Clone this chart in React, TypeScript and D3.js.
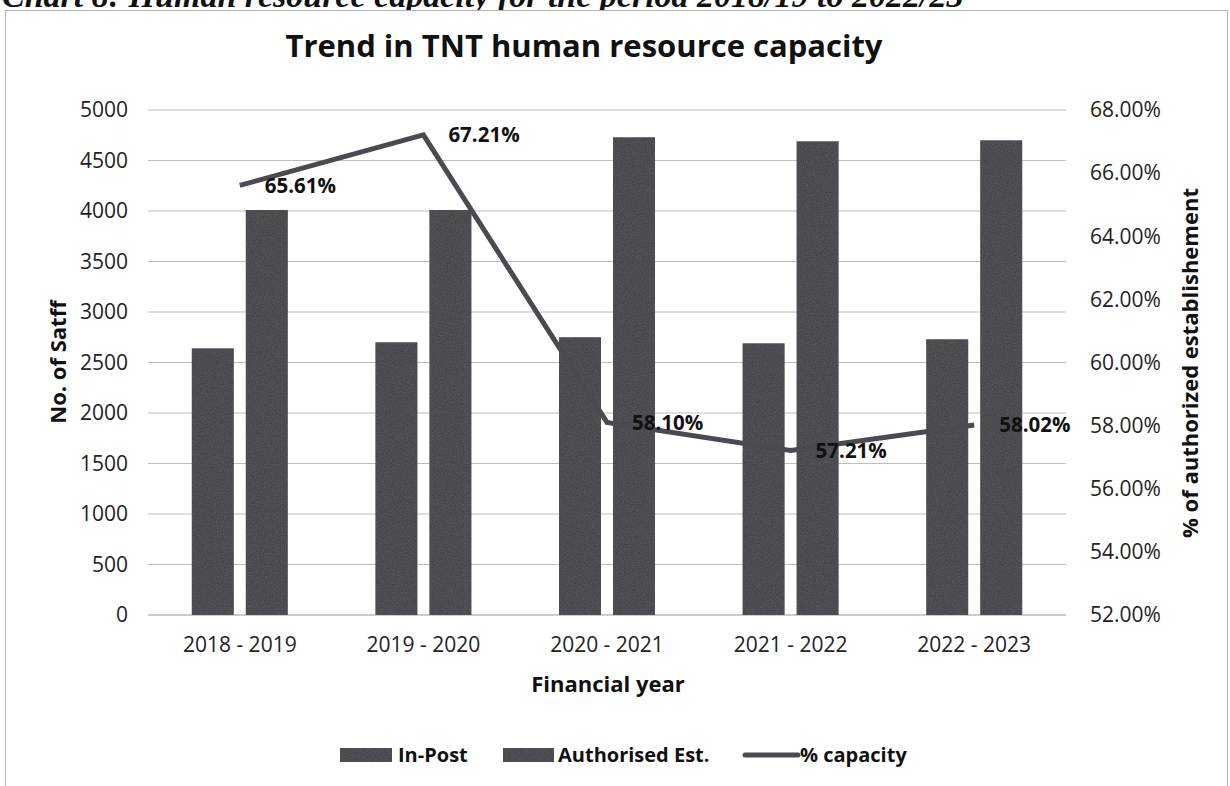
import React from "react";
import * as d3 from "d3";

const categories = ["2018 - 2019", "2019 - 2020", "2020 - 2021", "2021 - 2022", "2022 - 2023"];
const inPost = [2640, 2700, 2750, 2690, 2730];
const authorised = [4010, 4010, 4730, 4690, 4700];
const capacity = [65.61, 67.21, 58.1, 57.21, 58.02];
const leftTicks = [0, 500, 1000, 1500, 2000, 2500, 3000, 3500, 4000, 4500, 5000];
const rightTicks = [52, 54, 56, 58, 60, 62, 64, 66, 68];

const W = 1230;
const H = 786;
const FONT = "'Open Sans', 'Noto Sans', sans-serif";

export default function App() {
  const left = 148;
  const right = 1066;
  const top = 110;
  const bottom = 615;

  const x = d3.scaleBand().domain(categories).range([left, right]).paddingInner(0).paddingOuter(0);
  const y = d3.scaleLinear().domain([0, 5000]).range([bottom, top]);
  const y2 = d3.scaleLinear().domain([52, 68]).range([bottom, top]);

  const barW = 42;
  const gap = 12;
  const barColor = "#3a3a40";

  const line = d3
    .line<number>()
    .x((_, i) => (x(categories[i]) as number) + x.bandwidth() / 2)
    .y((d) => y2(d));

  return (
    <svg width={W} height={H} style={{ position: "absolute", left: 0, top: 0, background: "#fff" }}>
      <defs>
        <filter id="grain" x="0" y="0" width="100%" height="100%">
          <feTurbulence type="fractalNoise" baseFrequency="0.9" numOctaves="2" seed="3" result="n" />
          <feColorMatrix in="n" type="matrix" values="0 0 0 0 0.23  0 0 0 0 0.23  0 0 0 0 0.25  0 0 0 0.35 0" result="c" />
          <feComposite in="c" in2="SourceGraphic" operator="in" result="m" />
          <feMerge>
            <feMergeNode in="SourceGraphic" />
            <feMergeNode in="m" />
          </feMerge>
        </filter>
      </defs>
      <rect x={0} y={0} width={W} height={H} fill="#fff" />
      {/* clipped document caption */}
      <text x={2} y={7} fontFamily="'Liberation Serif', serif" fontWeight="bold" fontStyle="italic" fontSize={34} fill="#111">
        Chart 8: Human resource capacity for the period 2018/19 to 2022/23
      </text>
      {/* chart border */}
      <rect x={5.5} y={10.5} width={1222} height={H} fill="#fff" stroke="#b5b5b5" strokeWidth={1} />

      {/* title */}
      <text x={584} y={57} textAnchor="middle" fontFamily={FONT} fontWeight="bold" fontSize={31} fill="#111">
        Trend in TNT human resource capacity
      </text>

      {/* gridlines */}
      {leftTicks.map((t) => (
        <line key={t} x1={left} x2={right} y1={y(t)} y2={y(t)} stroke={t === 0 ? "#9a9a9a" : "#bdbdbd"} strokeWidth={1.2} />
      ))}

      {/* left tick labels */}
      {leftTicks.map((t) => (
        <text key={"l" + t} x={128} y={y(t)} dy="0.35em" textAnchor="end" fontFamily={FONT} fontSize={21} fill="#222">
          {t}
        </text>
      ))}
      {/* right tick labels */}
      {rightTicks.map((t) => (
        <text key={"r" + t} x={1090} y={y2(t)} dy="0.35em" textAnchor="start" fontFamily={FONT} fontSize={21} fill="#222">
          {t.toFixed(2)}%
        </text>
      ))}

      {/* bars */}
      {categories.map((c, i) => {
        const cx = (x(c) as number) + x.bandwidth() / 2;
        return (
          <g key={c} filter="url(#grain)">
            <rect x={cx - gap / 2 - barW} y={y(inPost[i])} width={barW} height={bottom - y(inPost[i])} fill={barColor} />
            <rect x={cx + gap / 2} y={y(authorised[i])} width={barW} height={bottom - y(authorised[i])} fill={barColor} />
          </g>
        );
      })}

      {/* line */}
      <path d={line(capacity) as string} fill="none" stroke="#4a4b52" strokeWidth={5} strokeLinejoin="miter" />

      {/* line labels */}
      {capacity.map((v, i) => {
        const cx = (x(categories[i]) as number) + x.bandwidth() / 2;
        return (
          <text key={"c" + i} x={cx + 25} y={y2(v)} dy="0.35em" fontFamily={FONT} fontWeight="bold" fontSize={20.5} fill="#111">
            {v.toFixed(2)}%
          </text>
        );
      })}

      {/* x labels */}
      {categories.map((c) => (
        <text key={"x" + c} x={(x(c) as number) + x.bandwidth() / 2} y={645} dy="0.35em" textAnchor="middle" fontFamily={FONT} fontSize={21} fill="#222">
          {c}
        </text>
      ))}

      {/* axis titles */}
      <text x={608} y={684} dy="0.35em" textAnchor="middle" fontFamily={FONT} fontWeight="bold" fontSize={22} fill="#111">
        Financial year
      </text>
      <text transform="translate(58,362) rotate(-90)" dy="0.35em" textAnchor="middle" fontFamily={FONT} fontWeight="bold" fontSize={22} fill="#111">
        No. of Satff
      </text>
      <text transform="translate(1190,363) rotate(-90)" dy="0.35em" textAnchor="middle" fontFamily={FONT} fontWeight="bold" fontSize={22} fill="#111">
        % of authorized establishement
      </text>

      {/* legend */}
      <g fontFamily={FONT} fontWeight="bold" fontSize={20} fill="#111">
        <rect x={340} y={748} width={52} height={14} fill={barColor} filter="url(#grain)" />
        <text x={398} y={755} dy="0.35em">In-Post</text>
        <rect x={503} y={748} width={51} height={14} fill={barColor} filter="url(#grain)" />
        <text x={558} y={755} dy="0.35em">Authorised Est.</text>
        <line x1={745} x2={798} y1={755} y2={755} stroke="#4a4b52" strokeWidth={5} strokeLinecap="round" />
        <text x={800} y={755} dy="0.35em">% capacity</text>
      </g>
    </svg>
  );
}
